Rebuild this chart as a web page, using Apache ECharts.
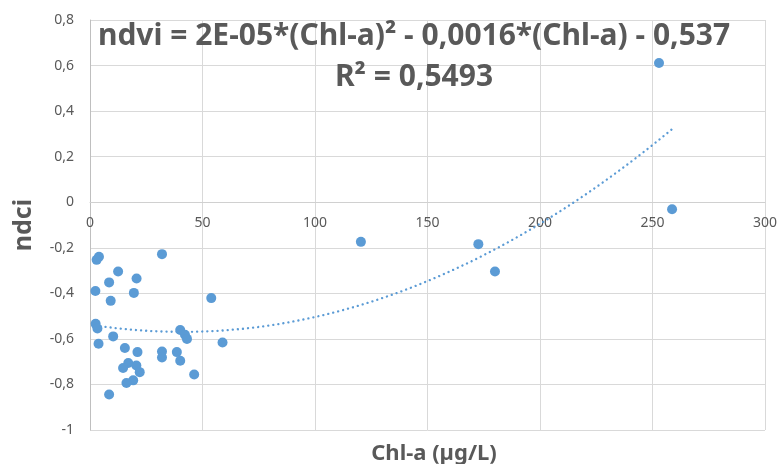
<!DOCTYPE html>
<html>
<head>
<meta charset="utf-8">
<script src="https://cdn.jsdelivr.net/npm/echarts@6/dist/echarts.min.js"></script>
<style>html,body{margin:0;padding:0;background:#fff}#c{width:780px;height:464px}</style>
</head>
<body>
<div id="c"></div>
<script>
// Chl-a (µg/L) values
var chlA = [3.98, 2.95, 32.0, 12.5, 8.5, 20.7, 2.4, 19.5, 9.2, 53.9, 2.5, 3.3, 40.1, 42.2, 43.1, 10.3, 3.8, 58.9, 15.5, 21.1, 32.0, 32.0, 38.6, 40.1, 17.0, 14.7, 20.6, 22.1, 46.3, 19.2, 16.2, 8.5, 120.4, 172.6, 180.0, 252.9, 258.7];
// ndci values
var ndci = [-0.239, -0.253, -0.228, -0.304, -0.352, -0.335, -0.390, -0.398, -0.433, -0.421, -0.534, -0.554, -0.561, -0.582, -0.600, -0.589, -0.621, -0.616, -0.640, -0.658, -0.655, -0.682, -0.658, -0.696, -0.706, -0.728, -0.717, -0.746, -0.756, -0.782, -0.794, -0.844, -0.174, -0.184, -0.304, 0.611, -0.031];
var xTicks = [0, 50, 100, 150, 200, 250, 300];
var yTicks = [-1, -0.8, -0.6, -0.4, -0.2, 0, 0.2, 0.4, 0.6, 0.8];
var equationText = 'ndvi = 2E-05*(Chl-a)² - 0,0016*(Chl-a) - 0,537';
var r2Text = 'R² = 0,5493';
var xName = 'Chl-a (µg/L)';
var yName = 'ndci';

// least squares quadratic fit (trendline like the spreadsheet)
function polyfit2(xs, ys) {
  var n = xs.length, S = [0,0,0,0,0], T = [0,0,0];
  for (var i = 0; i < n; i++) {
    var x = xs[i], y = ys[i], p = 1;
    for (var k = 0; k < 5; k++) { S[k] += p; if (k < 3) T[k] += p * y; p *= x; }
  }
  var A = [[S[0],S[1],S[2],T[0]],[S[1],S[2],S[3],T[1]],[S[2],S[3],S[4],T[2]]];
  for (var c = 0; c < 3; c++) {
    for (var r = c + 1; r < 3; r++) {
      var f = A[r][c] / A[c][c];
      for (var k2 = c; k2 < 4; k2++) A[r][k2] -= f * A[c][k2];
    }
  }
  var sol = [0,0,0];
  for (var r2 = 2; r2 >= 0; r2--) {
    var s = A[r2][3];
    for (var k3 = r2 + 1; k3 < 3; k3++) s -= A[r2][k3] * sol[k3];
    sol[r2] = s / A[r2][r2];
  }
  return sol; // c0, c1, c2
}
var coef = polyfit2(chlA, ndci);
var xMin = Math.min.apply(null, chlA), xMax = Math.max.apply(null, chlA);
var trend = [];
for (var i = 0; i <= 200; i++) {
  var x = xMin + (xMax - xMin) * i / 200;
  trend.push([x, coef[0] + coef[1] * x + coef[2] * x * x]);
}
var pts = chlA.map(function (v, i) { return [v, ndci[i]]; });

var yMin = yTicks[0], yMax = yTicks[yTicks.length - 1];
var gridH = 410;
// shift the x axis up so it sits on y = 0, as in the spreadsheet chart
var xAxisOffset = -gridH * (0 - yMin) / (yMax - yMin);

var grey = '#595959';
var chart = echarts.init(document.getElementById('c'));
chart.setOption({
  animation: false,
  backgroundColor: '#fff',
  title: [{
    text: equationText + '\n' + r2Text,
    left: 409, top: 11, textAlign: 'center',
    textStyle: { fontFamily: 'Noto Sans', fontWeight: 'bold', fontSize: 30, color: grey, lineHeight: 41 }
  }, {
    text: xName, left: 429, top: 438, textAlign: 'center',
    textStyle: { fontFamily: 'Noto Sans', fontWeight: 'bold', fontSize: 22, color: grey }
  }],
  grid: { left: 90, top: 20, width: 678, height: gridH, containLabel: false },
  xAxis: {
    type: 'value', min: xTicks[0], max: xTicks[xTicks.length - 1], interval: xTicks[1] - xTicks[0],
    position: 'bottom', offset: xAxisOffset,
    axisLine: { show: true, onZero: false, lineStyle: { color: '#d0d0d0', width: 1 } },
    axisTick: { show: false },
    axisLabel: { color: grey, fontFamily: 'Noto Sans', fontSize: 14, margin: 14 },
    splitLine: { show: true, lineStyle: { color: '#d9d9d9', width: 1 } }
  },
  yAxis: {
    type: 'value', min: yMin, max: yMax, interval: 0.2,
    name: yName, nameLocation: 'middle', nameGap: 54, nameRotate: 90,
    nameTextStyle: { fontFamily: 'Noto Sans', fontWeight: 'bold', fontSize: 25, color: grey },
    axisLine: { show: true, onZero: false, lineStyle: { color: '#bfbfbf', width: 1 } },
    axisTick: { show: false },
    axisLabel: {
      color: grey, fontFamily: 'Noto Sans', fontSize: 14, margin: 16,
      formatter: function (v) { return String(Number(v.toFixed(1))).replace('.', ','); }
    },
    splitLine: { show: true, lineStyle: { color: '#d9d9d9', width: 1 } }
  },
  series: [{
    type: 'line', data: trend, showSymbol: false, symbol: 'none', smooth: false,
    lineStyle: { color: '#5b9bd5', width: 2.3, type: [0.1, 5], cap: 'round' }, z: 2
  }, {
    type: 'scatter', data: pts, symbolSize: 10,
    itemStyle: { color: '#5b9bd5', opacity: 1 }, z: 3
  }]
});
</script>
</body>
</html>
